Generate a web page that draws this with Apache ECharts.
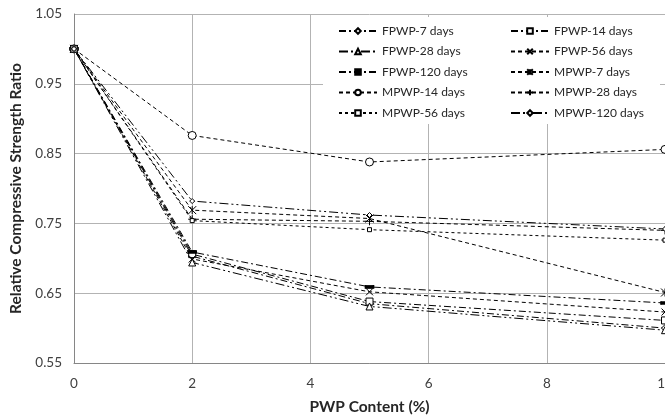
<!DOCTYPE html>
<html>
<head>
<meta charset="utf-8">
<script src="https://cdn.jsdelivr.net/npm/echarts@6/dist/echarts.min.js"></script>
<style>
  html, body { margin: 0; padding: 0; background: #fff; }
  #chart { width: 665px; height: 418px; }
</style>
</head>
<body>
<div id="chart"></div>
<script>
// x 轴：PWP 含量 (%)
const pwpContent = [0, 2, 5, 10];

// 各系列相对抗压强度比
const fpwp7 = [1.0, 0.703, 0.635, 0.600];
const fpwp14 = [1.0, 0.706, 0.638, 0.611];
const fpwp28 = [1.0, 0.694, 0.631, 0.597];
const fpwp56 = [1.0, 0.699, 0.652, 0.623];
const fpwp120 = [1.0, 0.709, 0.659, 0.636];
const mpwp7 = [1.0, 0.769, 0.757, 0.651];
const mpwp14 = [1.0, 0.876, 0.838, 0.856];
const mpwp28 = [1.0, 0.756, 0.753, 0.740];
const mpwp56 = [1.0, 0.754, 0.741, 0.726];
const mpwp120 = [1.0, 0.782, 0.762, 0.742];

const seriesNames = [
  'FPWP-7 days', 'FPWP-14 days', 'FPWP-28 days', 'FPWP-56 days', 'FPWP-120 days',
  'MPWP-7 days', 'MPWP-14 days', 'MPWP-28 days', 'MPWP-56 days', 'MPWP-120 days'
];
const seriesValues = [fpwp7, fpwp14, fpwp28, fpwp56, fpwp120, mpwp7, mpwp14, mpwp28, mpwp56, mpwp120];

const xTicks = {min: 0, max: 10, interval: 2};
const yTicks = {min: 0.55, max: 1.05, interval: 0.1};

// 线型与标记
const dashDot = [7, 3, 2, 3];
const dashDotDot = [9, 3, 2, 3, 2, 3];
const dashed = [4, 3];
const styles = [
  {symbol: 'diamond', size: 7, dash: dashDot, fill: '#fff'},
  {symbol: 'rect', size: 7, dash: dashDot, fill: '#fff'},
  {symbol: 'triangle', size: 7, dash: dashDotDot, fill: '#fff'},
  {symbol: 'path://M0,0L10,10M10,0L0,10', size: 7, dash: dashed, fill: '#fff'},
  {symbol: 'rect', size: [8, 3], dash: dashDot, fill: '#000'},
  {symbol: 'path://M0,0L10,10M10,0L0,10M5,0L5,10', size: 8, dash: dashed, fill: '#fff'},
  {symbol: 'circle', size: 8, dash: dashed, fill: '#fff'},
  {symbol: 'path://M5,0L5,10M0,5L10,5', size: 8, dash: dashed, fill: '#fff'},
  {symbol: 'rect', size: 4, dash: [3, 3], fill: '#fff'},
  {symbol: 'diamond', size: 5, dash: dashDotDot, fill: '#fff'}
];

const FONT = 'Lato, "Open Sans", sans-serif';

const chart = echarts.init(document.getElementById('chart'), null, {renderer: 'canvas'});

const series = seriesNames.map(function (name, i) {
  const s = styles[i];
  return {
    name: name,
    type: 'line',
    data: pwpContent.map(function (x, j) { return [x, seriesValues[i][j]]; }),
    symbol: s.symbol,
    symbolSize: s.size,
    showAllSymbol: true,
    clip: false,
    lineStyle: {color: '#000', width: 1, type: s.dash},
    itemStyle: {color: s.fill, borderColor: '#000', borderWidth: 1},
    emphasis: {disabled: true},
    z: 2
  };
});

function legendFor(names, left) {
  return {
    orient: 'vertical',
    left: left,
    top: 25,
    itemWidth: 38,
    itemHeight: 7,
    itemGap: 8.5,
    padding: 0,
    data: names,
    selectedMode: false,
    textStyle: {fontFamily: FONT, fontSize: 12, color: '#262626'}
  };
}

const option = {
  animation: false,
  backgroundColor: '#fff',
  grid: {left: 74, right: 0, top: 14, bottom: 55, containLabel: false, outerBoundsMode: 'none'},
  legend: [
    legendFor(seriesNames.filter(function (n, i) { return i % 2 === 0; }), 338),
    legendFor(seriesNames.filter(function (n, i) { return i % 2 === 1; }), 510)
  ],
  // 图例底部白色背景
  graphic: [{
    type: 'rect',
    shape: {x: 323, y: 17, width: 337, height: 107},
    style: {fill: '#fff'},
    z: 3
  }],
  xAxis: {
    type: 'value',
    min: xTicks.min,
    max: xTicks.max,
    interval: xTicks.interval,
    name: 'PWP Content (%)',
    nameLocation: 'middle',
    nameGap: 36,
    nameTextStyle: {fontFamily: FONT, fontSize: 15.5, fontWeight: 'bold', color: '#262626'},
    axisLine: {show: true, lineStyle: {color: '#868686', width: 1}},
    axisTick: {show: false},
    axisLabel: {fontFamily: FONT, fontSize: 13.5, color: '#404040', margin: 14, hideOverlap: false},
    splitLine: {show: true, lineStyle: {color: '#b3b3b3', width: 1}}
  },
  yAxis: {
    type: 'value',
    min: yTicks.min,
    max: yTicks.max,
    interval: yTicks.interval,
    name: 'Relative Compressive Strength Ratio',
    nameLocation: 'middle',
    nameGap: 50,
    nameTextStyle: {fontFamily: FONT, fontSize: 15.5, fontWeight: 'bold', color: '#262626'},
    axisLine: {show: true, lineStyle: {color: '#868686', width: 1}},
    axisTick: {show: false},
    axisLabel: {
      fontFamily: FONT, fontSize: 13.5, color: '#404040', margin: 12,
      formatter: function (v) { return v.toFixed(2); }
    },
    splitLine: {show: true, lineStyle: {color: '#b3b3b3', width: 1}}
  },
  series: series
};

chart.setOption(option);
</script>
</body>
</html>
